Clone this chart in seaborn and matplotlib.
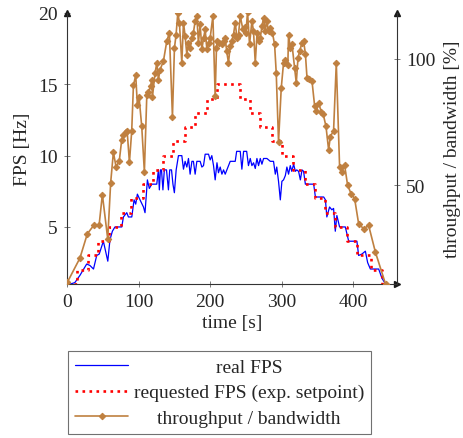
import numpy as np
import pandas as pd
import matplotlib
matplotlib.use('Agg')
import matplotlib.pyplot as plt
from matplotlib.transforms import Affine2D
import seaborn as sns

# real FPS measured at the receiver (time [s] -> fps)
real_t = [0, 5, 11, 18, 27.5, 32, 37, 41.5, 45, 50.8, 57, 60, 63.4, 67, 76.5, 78.8, 83.5, 85.8,
          90.5, 93.7, 96, 98.3, 102, 106.8, 109, 112.3, 115, 118.4, 125.4, 127.7, 129, 130.5, 132,
          134, 136, 139, 141.7, 143.5, 146, 148, 150, 152.5, 155.7, 160.4, 162.7, 165, 167.4,
          169.7, 172, 174.5, 176.6, 179, 181.4, 184, 186, 188.4, 190.7, 193, 197.7, 200, 202.3,
          204.7, 207, 209.5, 211.6, 214, 216.4, 218.7, 221, 223.3, 225.6, 228, 232.6, 235, 237,
          242, 244.3, 246.7, 251, 253.5, 256, 258.3, 260.6, 263, 265.3, 267.6, 270, 272.3, 274.6,
          279.3, 284, 288.5, 291, 293, 295.5, 298, 300.2, 302.5, 305, 307.2, 309.5, 311.9, 314,
          316.6, 319, 321, 323.5, 326, 328.3, 330.5, 333, 337.5, 344.6, 347, 351.5, 358.6, 361,
          363, 366.8, 370, 372.4, 374.8, 377, 380.8, 388.8, 393.5, 405, 407.4, 412, 416.8, 420,
          423.8, 435.4, 440, 445]
real_fps = [1.0, 1.0, 1.1, 1.6, 2.4, 2.3, 2.05, 3.0, 3.1, 4.0, 2.6, 4.1, 4.7, 5.0, 5.0, 5.7, 6.0, 5.7,
            5.7, 6.9, 6.6, 7.3, 6.9, 6.4, 6.0, 8.3, 7.7, 8.0, 8.0, 9.0, 7.6, 9.0, 9.0,
            7.6, 9.0, 9.0, 7.6, 9.0, 9.0, 8.0, 7.4, 9.0, 10.0, 10.0, 9.05, 9.6, 9.2,
            9.8, 8.7, 9.6, 9.6, 8.7, 9.6, 9.6, 9.6, 9.2, 9.3, 10.1, 10.1, 9.7, 10.0,
            9.3, 8.3, 9.5, 8.8, 9.2, 8.7, 9.0, 8.7, 9.0, 9.3, 9.6, 9.6, 9.6, 10.3,
            10.3, 9.05, 10.3, 10.3, 9.3, 9.8, 9.3, 9.5, 9.1, 9.8, 9.3, 9.8, 9.4, 9.8,
            9.8, 9.6, 9.6, 8.7, 9.2, 8.2, 6.9, 8.2, 8.3, 8.6, 9.2, 8.7, 9.3, 8.9,
            9.4, 8.9, 9.0, 8.9, 8.3, 9.0, 8.9, 8.0, 8.0, 8.0, 7.1, 7.1, 7.1, 6.9,
            5.7, 6.4, 6.2, 6.3, 4.7, 5.8, 5.0, 5.0, 4.0, 4.0, 3.0, 3.1, 3.3, 2.5,
            2.05, 2.05, 1.4, 1.0]

# requested FPS setpoint: value holds from each time until the next one
req_t = [0, 14, 29, 44, 58, 75, 90, 106, 120, 134, 148, 165, 179, 195, 210,
         241, 256, 270, 286, 300, 316, 333, 347, 361, 375, 391, 405, 424, 440, 445]
req_fps = [1, 2, 3, 4, 5, 6, 7, 8, 9, 10, 11, 12, 13, 14, 15,
           14, 13, 12, 11, 10, 9, 8, 7, 6, 5, 4, 3, 2, 1, 1]

# throughput / bandwidth in percent
thr_t = [0.5, 18, 28.4, 38, 44.8, 49.4, 56.9, 61, 64.8, 68.5, 73, 76.4, 78.8, 82, 84, 87.2, 90.4,
         92.8, 96, 98.3, 100.7, 104.4, 108.1, 111.5, 113.7, 117, 118.4, 119.3, 123, 125.5, 127.7,
         130, 134.7, 139.4, 143, 147.3, 150.1, 152.4, 154.8, 157, 160.4, 162.7, 165, 167.4, 169.7,
         172, 174, 176.6, 179, 181.4, 183.6, 186, 188.4, 190.7, 193, 195.4, 198, 200, 203.8, 207,
         208.8, 210.2, 213, 216.4, 219, 221, 223, 225.6, 228, 230, 232.6, 235, 237.5, 239.6, 242,
         245.7, 248, 250, 252.2, 255, 258.3, 260.5, 263, 265.5, 268, 270, 272.5, 274.6, 277, 279,
         281.5, 284, 287, 290, 292.3, 295.5, 299.3, 302.5, 305, 308.5, 309.5, 312, 314.3, 317.9,
         320.3, 322.7, 325, 328.3, 330.5, 333, 335.3, 338, 342.3, 346, 348.5, 351.5, 355.2, 358,
         361.8, 365.5, 367.8, 372.4, 376.2, 380.8, 384.2, 387.8, 392, 396.8, 401.8, 407.4, 414.4,
         421.4, 430.8, 445]
thr_pct = [11.7, 21.2, 30.8, 34.4, 34.1, 46.3, 28.8, 51, 63, 57.3, 59.5, 67.9, 69.8, 70.9, 71.5, 59, 71.4,
           89.4, 93.4, 81.7, 84.7, 73.2, 55.3, 85.7, 87, 89, 91.7, 84.7, 94.3, 98.3, 91.7,
           95.6, 99, 106.9, 110.2, 77.1, 104.2, 109.5, 118.1, 114.2, 98.3, 114.2, 108.9, 101.6, 106.2,
           104, 108, 110.2, 114.8, 116.8, 106.2, 113.5, 103.6, 108, 111.5, 103.6, 106, 108.2, 116.8, 85.1,
           104.2, 106.9, 106, 105.6, 107, 108.2, 103, 98.3, 105, 107, 109.5, 114.2, 108, 109.5, 116.8,
           111.5, 112.5, 110, 118.5, 105.6, 114.8, 111, 98.3, 110, 107, 108.2, 113, 116.1, 110.9, 114.8,
           110.9, 112, 110.2, 105.6, 94.3, 67.2, 88.4, 98.3, 99.5, 97.6, 109.5, 104, 105.6, 96.3,
           90.4, 100.3, 103, 106.2, 106.9, 102, 92.3, 92, 91, 81.1, 79.5, 82.4, 79.1, 78,
           73.2, 63.9, 69.2, 71.5, 98.3, 57.3, 55.3, 57.9, 50, 46.7, 44.7, 34.8, 32.8,
           34.1, 23.6, 11]

x_ticks = [0, 100, 200, 300, 400]
fps_ticks = [5, 10, 15, 20]
pct_ticks = [50, 100]

FS = 14

sns.set_theme(style="ticks")
plt.rcParams['font.family'] = ['Liberation Serif', 'DejaVu Serif']
plt.rcParams['font.size'] = FS

fig = plt.figure(figsize=(4.63, 4.39), dpi=100)
ax = fig.add_axes([67 / 463, 1 - 285 / 439, 330 / 463, 271 / 439])
ax2 = ax.twinx()

sns.lineplot(x=real_t, y=real_fps, ax=ax, color='blue', lw=0.9, sort=False,
             estimator=None, legend=False, label='real FPS')
sns.lineplot(x=req_t, y=req_fps, ax=ax, color='red', lw=1.9, linestyle=':',
             drawstyle='steps-post', sort=False, estimator=None, legend=False,
             label='requested FPS (exp. setpoint)')
brown = '#BF8040'
sns.lineplot(x=thr_t, y=thr_pct, ax=ax2, color=brown, lw=1.2, marker='D', ms=3.3,
             mec=brown, mfc=brown, sort=False, estimator=None, legend=False,
             label='throughput / bandwidth')

ax.set_xlim(0, 461)
ax.set_ylim(1, 20)
ax2.set_ylim(11, 118)
ax.set_xticks(x_ticks)
ax.set_yticks(fps_ticks)
ax2.set_yticks(pct_ticks)

ax.set_xlabel('time [s]', fontsize=FS, labelpad=3)
ax.set_ylabel('FPS [Hz]', fontsize=FS, labelpad=5)
ax2.set_ylabel('throughput / bandwidth [%]', fontsize=FS, labelpad=6)

for a in (ax, ax2):
    a.tick_params(direction='inout', length=5, width=0.6, color='0.4', labelsize=FS, pad=4)
    a.spines['top'].set_visible(False)
    for s in a.spines.values():
        s.set_linewidth(0.8)
        s.set_color('0.2')
ax.spines['right'].set_visible(False)
ax2.spines['left'].set_visible(False)
ax2.spines['bottom'].set_visible(False)

# arrow heads at the end of the axis lines
ax.plot(0, 1, '^', color='0.1', ms=5, transform=ax.transAxes, clip_on=False)
ax.plot(1, 0, '>', color='0.1', ms=5, transform=ax.transAxes, clip_on=False)
ax2.plot(1, 1, '^', color='0.1', ms=5, transform=ax2.transAxes, clip_on=False)

handles = ax.get_lines()[:2] + ax2.get_lines()[:1]
labels = [h.get_label() for h in handles]
leg = fig.legend(handles, labels, loc='upper left', bbox_to_anchor=(68 / 463, 1 - 352 / 439),
                 fontsize=FS, frameon=True, fancybox=False, edgecolor='0.3',
                 handlelength=2.7, handletextpad=0.3, borderpad=0.38, labelspacing=0.4,
                 borderaxespad=0)
leg.get_frame().set_linewidth(0.8)

# center the legend texts like pgfplots does
fig.canvas.draw()
texts = leg.get_texts()
widths = [t.get_window_extent().width for t in texts]
wmax = max(widths)
for t, w in zip(texts, widths):
    t.set_transform(t.get_transform() + Affine2D().translate((wmax - w) / 2, 0))

fig.savefig('out.png', dpi=100)
